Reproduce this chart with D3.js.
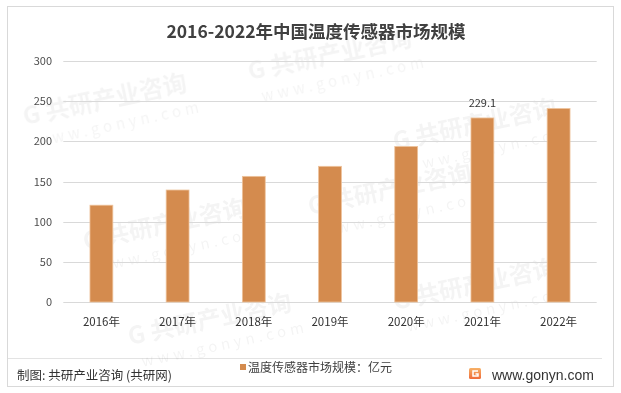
<!DOCTYPE html>
<html lang="zh">
<head>
<meta charset="UTF-8">
<title>2016-2022年中国温度传感器市场规模</title>
<style>
  body { margin: 0; background: #fff; }
  svg { display: block; font-family: "Noto Sans CJK SC", "Noto Sans", sans-serif; }
  .grid line { stroke: #d9d9d9; stroke-width: 1; }
  .ylab { font-size: 11px; fill: #4d4d4d; text-anchor: end; }
  .xlab { font-size: 11.5px; fill: #333; text-anchor: middle; }
</style>
</head>
<body>
<div id="chart"></div>
<script src="https://cdnjs.cloudflare.com/ajax/libs/d3/7.8.5/d3.min.js"></script>
<script>
// data
var years = ["2016年", "2017年", "2018年", "2019年", "2020年", "2021年", "2022年"];
var values = [120.5, 139.4, 156.4, 168.9, 193.6, 229.1, 240.8];
var yTicks = [0, 50, 100, 150, 200, 250, 300];
var labelled = ["2021年"];   // only this bar carries a value label

var W = 621, H = 393;
var plot = { left: 63.3, right: 596.7, top: 61, bottom: 302 };
var barColor = "#d48b4e";

var svg = d3.select("#chart").append("svg")
    .attr("width", W).attr("height", H);

// outer frame + footer separator
svg.append("rect")
    .attr("x", 7.5).attr("y", 6.5).attr("width", 606).attr("height", 380)
    .attr("fill", "none").attr("stroke", "#d9d9d9");
svg.append("line")
    .attr("x1", 8).attr("x2", 602).attr("y1", 358.5).attr("y2", 358.5)
    .attr("stroke", "#e3e3e3");

// faint watermarks, kept inside the frame
var wm = svg.append("g").attr("fill", "#000").attr("opacity", 0.045)
    .attr("font-weight", "bold");
var wmSpots = [[25, 125], [250, 80], [395, 150], [85, 250], [310, 215], [395, 310], [130, 345]];
wmSpots.forEach(function (p) {
    var g = wm.append("g").attr("transform", "translate(" + p[0] + "," + p[1] + ") rotate(-12)");
    g.append("text").attr("font-size", 24).text("G 共研产业咨询");
    g.append("text").attr("y", 24).attr("x", 8).attr("font-size", 15)
        .attr("font-weight", "normal").attr("letter-spacing", 4).text("www.gonyn.com");
});

var x = d3.scaleBand()
    .domain(years)
    .range([plot.left, plot.right])
    .paddingInner(0.7)
    .paddingOuter(0.35);

var y = d3.scaleLinear()
    .domain([0, 300])
    .range([plot.bottom, plot.top]);

// gridlines
svg.append("g").attr("class", "grid")
    .selectAll("line").data(yTicks).enter().append("line")
    .attr("x1", plot.left).attr("x2", plot.right)
    .attr("y1", d => Math.round(y(d)) + 0.5).attr("y2", d => Math.round(y(d)) + 0.5);

// y tick labels
svg.append("g").selectAll("text").data(yTicks).enter().append("text")
    .attr("class", "ylab")
    .attr("x", 52).attr("y", d => y(d) + 4)
    .text(d => d);

// bars
svg.append("g").selectAll("rect").data(values).enter().append("rect")
    .attr("x", (d, i) => x(years[i]))
    .attr("y", d => y(d))
    .attr("width", x.bandwidth())
    .attr("height", d => y(0) - y(d))
    .attr("fill", barColor)
    .attr("stroke", "#eec39c")
    .attr("stroke-width", 0.8);

// value label
svg.append("g").selectAll("text")
    .data(values.map((v, i) => ({ v: v, c: years[i] })).filter(d => labelled.indexOf(d.c) >= 0))
    .enter().append("text")
    .attr("x", d => x(d.c) + x.bandwidth() / 2)
    .attr("y", d => y(d.v) - 11)
    .attr("text-anchor", "middle")
    .attr("font-size", 11).attr("fill", "#333")
    .text(d => d.v.toFixed(1));

// x labels
svg.append("g").selectAll("text").data(years).enter().append("text")
    .attr("class", "xlab")
    .attr("x", d => x(d) + x.bandwidth() / 2)
    .attr("y", 326)
    .text(d => d);

// title
svg.append("text")
    .attr("x", 316).attr("y", 38)
    .attr("text-anchor", "middle")
    .attr("font-size", 17.5).attr("font-weight", "bold").attr("fill", "#404040")
    .text("2016-2022年中国温度传感器市场规模");

// legend
svg.append("rect").attr("x", 240).attr("y", 364).attr("width", 6).attr("height", 6).attr("fill", barColor);
svg.append("text")
    .attr("x", 248).attr("y", 372)
    .attr("font-size", 12).attr("fill", "#404040")
    .text("温度传感器市场规模：亿元");

// footer left
svg.append("text")
    .attr("x", 17).attr("y", 380)
    .attr("font-size", 12.5).attr("fill", "#333")
    .text("制图: 共研产业咨询 (共研网)");

// footer right logo + url
var grad = svg.append("defs").append("linearGradient")
    .attr("id", "lg").attr("x1", 0).attr("y1", 0).attr("x2", 0).attr("y2", 1);
grad.append("stop").attr("offset", 0).attr("stop-color", "#f7b267");
grad.append("stop").attr("offset", 1).attr("stop-color", "#ef6b3a");
var logo = svg.append("g").attr("transform", "translate(469,368)");
logo.append("rect").attr("width", 12).attr("height", 11).attr("rx", 1.5).attr("fill", "url(#lg)");
logo.append("path").attr("d", "M9,3 H4 V8 H9 V6 H6.5").attr("fill", "none")
    .attr("stroke", "#fff").attr("stroke-width", 1.5);
svg.append("text")
    .attr("x", 492).attr("y", 380)
    .attr("font-size", 14).attr("fill", "#333")
    .attr("font-family", "Liberation Sans, Arial, sans-serif")
    .text("www.gonyn.com");
</script>
</body>
</html>
